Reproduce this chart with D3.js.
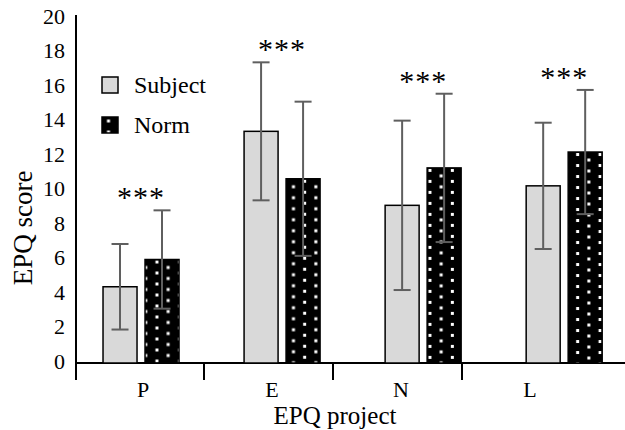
<!DOCTYPE html>
<html><head><meta charset="utf-8">
<script src="https://cdn.jsdelivr.net/npm/d3@7"></script>
<style>
body{margin:0;background:#fff}
</style></head><body>
<svg id="svg" width="625" height="430" font-family="'Liberation Serif', 'Times New Roman', Times, serif"></svg>
<script>
// data
var cats     = ["P", "E", "N", "L"],
    series   = ["Subject", "Norm"],
    subjMean = [4.42, 13.43, 9.14, 10.27],
    subjSD   = [2.48, 4.00, 4.91, 3.66],
    normMean = [6.00, 10.68, 11.31, 12.23],
    normSD   = [2.85, 4.47, 4.30, 3.60],
    yTicks   = [0, 2, 4, 6, 8, 10, 12, 14, 16, 18, 20],
    sig      = ["***", "***", "***", "***"];

var svg = d3.select("#svg"),
    defs = svg.append("defs");
var serif = "'Liberation Serif', 'Times New Roman', Times, serif";

var y0 = 363, y1 = 18, axX = 76;
var y = d3.scaleLinear().domain([0, 20]).range([y0, y1]);
// category axis (ticks + labels) and the bar groups sit on slightly different bands in the original
var xAx  = d3.scaleBand().domain(cats).range([75, 591]);
var xBar = d3.scaleBand().domain(cats).range([70.5, 634.7]);
var inner = d3.scaleBand().domain(series).range([-38, 38]).paddingInner(8/42);

var rows = cats.map((c, i) => ({
    cat: c, i: i,
    vals: [{s: "Subject", m: subjMean[i], sd: subjSD[i]},
           {s: "Norm",    m: normMean[i], sd: normSD[i]}]
}));

var gray = "#d9d9d9", errCol = "#5f5f5f";

// dotted fill, one pattern per black bar so the dots start at the bar edge
function dotPattern(id, x, yy) {
    var p = defs.append("pattern").attr("id", id).attr("patternUnits", "userSpaceOnUse")
        .attr("x", x).attr("y", yy).attr("width", 22.4).attr("height", 11);
    p.append("rect").attr("width", 22.4).attr("height", 11).attr("fill", "#000");
    p.selectAll("rect.d").data([[3.8, 1], [15, 6.5]]).enter().append("rect")
        .attr("class", "d").attr("x", d => d[0]).attr("y", d => d[1])
        .attr("width", 3).attr("height", 3).attr("fill", "#fff");
}

// axes lines
svg.append("line").attr("x1", axX).attr("x2", axX).attr("y1", 15).attr("y2", 380)
    .attr("stroke", "#000").attr("stroke-width", 2);
svg.append("line").attr("x1", axX).attr("x2", 625).attr("y1", y0).attr("y2", y0)
    .attr("stroke", "#000").attr("stroke-width", 2);

// y tick labels (no tick marks)
svg.selectAll("text.yt").data(yTicks).enter().append("text").attr("class", "yt")
    .attr("font-family", serif)
    .attr("x", 65).attr("y", d => y(d) - 2).attr("dy", "0.35em")
    .attr("text-anchor", "end").attr("font-size", 22).text(d => d);

// category ticks and labels
svg.selectAll("line.xt").data(cats.slice(1)).enter().append("line").attr("class", "xt")
    .attr("x1", d => Math.round(xAx(d))).attr("x2", d => Math.round(xAx(d)))
    .attr("y1", y0).attr("y2", 380).attr("stroke", "#000").attr("stroke-width", 2);
svg.selectAll("text.xl").data(cats).enter().append("text").attr("class", "xl")
    .attr("font-family", serif)
    .attr("x", d => xAx(d) + xAx.bandwidth()/2 + 3.5).attr("y", 397)
    .attr("text-anchor", "middle").attr("font-size", 22).text(d => d);

// bars
var groups = svg.selectAll("g.grp").data(rows).enter().append("g").attr("class", "grp")
    .attr("transform", d => "translate(" + (xBar(d.cat) + xBar.bandwidth()/2) + ",0)");

groups.each(function(d) {
    var cx = xBar(d.cat) + xBar.bandwidth()/2;
    dotPattern("dots" + d.i, cx + inner("Norm"), y(d.vals[1].m));
});

groups.selectAll("rect.bar").data(d => d.vals.map(v => Object.assign({i: d.i}, v))).enter()
    .append("rect").attr("class", "bar")
    .attr("x", v => inner(v.s)).attr("width", inner.bandwidth())
    .attr("y", v => y(v.m)).attr("height", v => y0 - y(v.m))
    .attr("fill", v => v.s === "Subject" ? gray : "url(#dots" + v.i + ")")
    .attr("stroke", "#000").attr("stroke-width", 1.5);

// error bars
var eb = groups.selectAll("g.err").data(d => d.vals).enter().append("g").attr("class", "err")
    .attr("transform", v => "translate(" + (inner(v.s) + inner.bandwidth()/2) + ",0)")
    .attr("stroke", errCol).attr("stroke-width", 2);
eb.append("line").attr("y1", v => y(v.m + v.sd)).attr("y2", v => y(v.m - v.sd));
eb.append("line").attr("x1", -8.5).attr("x2", 8.5).attr("y1", v => y(v.m + v.sd)).attr("y2", v => y(v.m + v.sd));
eb.append("line").attr("x1", -8.5).attr("x2", 8.5).attr("y1", v => y(v.m - v.sd)).attr("y2", v => y(v.m - v.sd));

// significance marks above the taller whisker
groups.append("text").attr("font-family", serif).attr("text-anchor", "middle")
    .attr("font-size", 30).attr("letter-spacing", 1)
    .attr("y", d => y(d3.max(d.vals, v => v.m + v.sd)) - 3)
    .text(d => sig[d.i]);

// legend
var leg = svg.append("g");
dotPattern("dotsLeg", 102, 117);
var li = leg.selectAll("g").data(series).enter().append("g")
    .attr("transform", (d, i) => "translate(102," + (77 + i*40) + ")");
li.append("rect").attr("width", 16).attr("height", 16)
    .attr("fill", d => d === "Subject" ? gray : "url(#dotsLeg)")
    .attr("stroke", "#000").attr("stroke-width", 1.5);
li.append("text").attr("font-family", serif).attr("x", 32).attr("y", 8).attr("dy", "0.35em")
    .attr("font-size", 24).text(d => d);

// axis titles
svg.append("text").attr("font-family", serif).attr("x", 335).attr("y", 424)
    .attr("text-anchor", "middle").attr("font-size", 25).text("EPQ project");
svg.append("text").attr("font-family", serif).attr("transform", "translate(32,228) rotate(-90)")
    .attr("text-anchor", "middle").attr("font-size", 27).text("EPQ score");
</script>
</body></html>
